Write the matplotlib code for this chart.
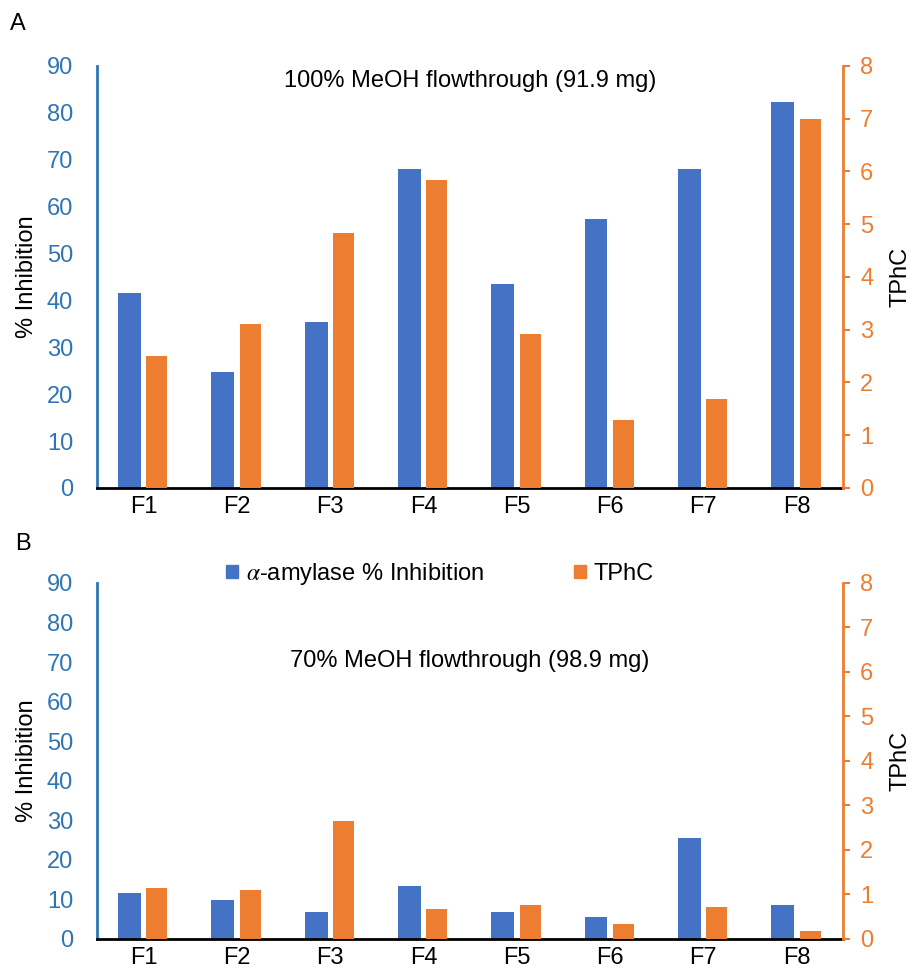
import numpy as np
import matplotlib
matplotlib.use("Agg")
import matplotlib.pyplot as plt
from matplotlib.patches import Patch

plt.rcParams['font.family'] = ['Liberation Sans', 'DejaVu Sans']
plt.rcParams['mathtext.fontset'] = 'stix'

# data
fractions = ["F1", "F2", "F3", "F4", "F5", "F6", "F7", "F8"]
inhib_100 = [41.5, 24.7, 35.3, 68.0, 43.5, 57.3, 68.0, 82.3]
tphc_100 = [2.51, 3.11, 4.83, 5.83, 2.92, 1.28, 1.69, 7.0]
inhib_70 = [11.7, 9.9, 6.8, 13.5, 6.8, 5.6, 25.6, 8.6]
tphc_70 = [1.14, 1.09, 2.65, 0.67, 0.76, 0.34, 0.71, 0.18]

BLUE = '#4472C4'
ORANGE = '#ED7D31'
AXBLUE = '#2E75B6'
FS = 17

fig = plt.figure(figsize=(9.13, 9.69), dpi=100)
ax_top = fig.add_axes([0.106, 0.4964, 0.8177, 0.4355])
ax_bot = fig.add_axes([0.106, 0.031, 0.8177, 0.3674])

x = np.arange(len(fractions))
w = 0.245


def draw_panel(ax, inhib, tphc, title, title_y):
    ax2 = ax.twinx()
    ax.bar(x - 0.15, inhib, w, color=BLUE, zorder=3)
    ax2.bar(x + 0.145, tphc, w * 0.92, color=ORANGE, zorder=3)
    ax.set_xlim(-0.5, 7.5)
    ax.set_ylim(0, 90)
    ax2.set_ylim(0, 8)
    ax.set_yticks(range(0, 91, 10))
    ax2.set_yticks(range(0, 9))
    ax.set_xticks(x)
    ax.set_xticklabels(fractions, fontsize=FS)
    ax.tick_params(axis='x', length=0, pad=6)
    ax.tick_params(axis='y', length=0, pad=17, labelsize=FS, labelcolor=AXBLUE)
    ax2.tick_params(axis='y', length=5, width=1.5, pad=7, labelsize=FS,
                    labelcolor=ORANGE, color=ORANGE)
    for a in (ax, ax2):
        a.spines['top'].set_visible(False)
    ax.spines['right'].set_visible(False)
    ax2.spines['left'].set_visible(False)
    ax2.spines['bottom'].set_visible(False)
    ax.spines['left'].set_color(AXBLUE)
    ax.spines['left'].set_linewidth(2)
    ax.spines['bottom'].set_color('black')
    ax.spines['bottom'].set_linewidth(2)
    ax.spines['bottom'].set_zorder(5)
    ax2.spines['right'].set_color(ORANGE)
    ax2.spines['right'].set_linewidth(2)
    ax.set_ylabel('% Inhibition', fontsize=FS, labelpad=6)
    ax2.set_ylabel('TPhC', fontsize=FS, labelpad=12)
    ax.text(0.5, title_y, title, transform=ax.transAxes, ha='center',
            va='center', fontsize=FS)
    return ax2


draw_panel(ax_top, inhib_100, tphc_100, '100% MeOH flowthrough (91.9 mg)', 0.965)
draw_panel(ax_bot, inhib_70, tphc_70, '70% MeOH flowthrough (98.9 mg)', 0.78)

fig.text(0.011, 0.975, 'A', fontsize=FS, va='center')
fig.text(0.017, 0.439, 'B', fontsize=FS, va='center')

handles = [Patch(color=BLUE, label=r'$\alpha$-amylase % Inhibition'),
           Patch(color=ORANGE, label='TPhC')]
fig.legend(handles=handles, loc='center', bbox_to_anchor=(0.482, 0.408),
           ncol=2, frameon=False, fontsize=FS, handlelength=0.5,
           handleheight=0.5, handletextpad=0.35, columnspacing=3.8)

fig.savefig('out.png', dpi=100)
